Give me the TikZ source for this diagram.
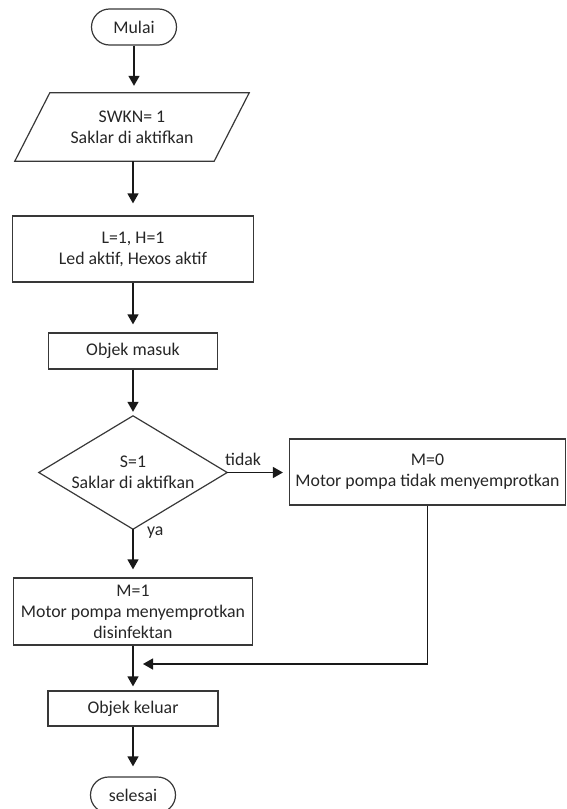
\documentclass[tikz,border=0pt]{standalone}
\usepackage{fontspec}
\setmainfont{Carlito}
\usetikzlibrary{arrows.meta}
\begin{document}
\begin{tikzpicture}[x=1pt,y=-1pt,
  every node/.style={font=\fontsize{17.8}{21}\selectfont, text=black!85},
  outline/.style={draw=black!78, line width=1.2pt},
  box/.style={outline, inner sep=0pt, align=center},
  term/.style={box, rounded corners=18pt, minimum width=85pt, minimum height=36pt},
  shp/.style={draw=none, inner sep=0pt, align=center},
  arr/.style={draw=black!90, line width=1.4pt, -{Triangle[width=11pt,length=10pt]}},
  lbl/.style={inner sep=0pt, anchor=west},
]
\useasboundingbox (0,0) rectangle (566,809);

\node[term] (mulai) at (134,27) {Mulai};

\node[shp, minimum width=199pt, minimum height=68pt] (in) at (132,127) {SWKN= 1\\Saklar di aktifkan};
\draw[outline] ([xshift=17.5pt]in.north west) -- ([xshift=17.5pt]in.north east)
  -- ([xshift=-17.5pt]in.south east) -- ([xshift=-17.5pt]in.south west) -- cycle;

\node[box, minimum width=241pt, minimum height=66pt] (led) at (133,249) {L=1, H=1\\Led aktif, Hexos aktif};

\node[box, minimum width=169pt, minimum height=36pt] (masuk) at (133,351) {Objek masuk};

\node[shp, minimum width=188pt, minimum height=113pt] (dec) at (133,472.5) {S=1\\Saklar di aktifkan};
\draw[outline] (dec.north) -- (dec.east) -- (dec.south) -- (dec.west) -- cycle;

\node[box, minimum width=276pt, minimum height=66pt] (m0) at (427.5,472) {M=0\\Motor pompa tidak menyemprotkan};

\node[box, minimum width=239pt, minimum height=67pt] (m1) at (133,611.5) {M=1\\Motor pompa menyemprotkan\\disinfektan};

\node[box, minimum width=170pt, minimum height=35pt] (keluar) at (133,708.5) {Objek keluar};

\node[term] (selesai) at (133,795) {selesai};

\node[lbl] (tidak) at (225,459) {tidak};
\node[lbl] (ya) at (147,533) {ya};

\coordinate (join) at (133,664);

\draw[arr, shorten >=7pt] (mulai.south) -- (mulai.south |- in.north);
\draw[arr, shorten >=12pt] (in.south -| led.north) -- (led.north);
\draw[arr, shorten >=8pt] (led.south) -- (masuk.north);
\draw[arr, shorten >=4pt] (masuk.south) -- (dec.north);
\draw[arr, shorten >=6pt] (dec.east) -- (m0.west |- dec.east);
\draw[arr, shorten >=8pt] (dec.south) -- (m1.north);
\draw[arr, shorten >=4pt] (m1.south) -- (keluar.north);
\draw[arr, shorten >=10pt] (keluar.south) -- (selesai.north);
\draw[arr, shorten >=10pt] (m0.south) |- (join);
\end{tikzpicture}
\end{document}
